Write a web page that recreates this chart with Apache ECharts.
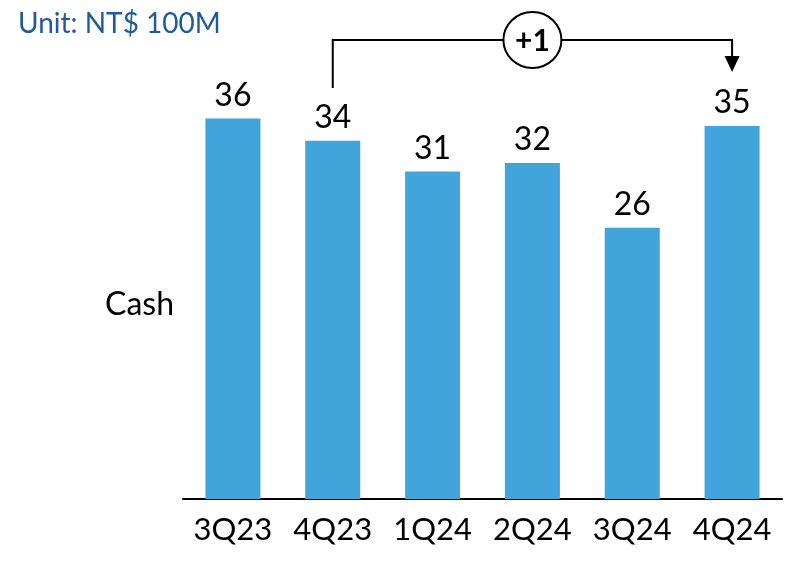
<!DOCTYPE html>
<html>
<head>
<meta charset="utf-8">
<script src="https://cdn.jsdelivr.net/npm/echarts@6/dist/echarts.min.js"></script>
<style>
  html, body { margin: 0; padding: 0; background: #fff; }
  #chart { width: 795px; height: 562px; }
</style>
</head>
<body>
<div id="chart"></div>
<script>
// quarters and cash balance (NT$ 100M)
const quarters = ['3Q23', '4Q23', '1Q24', '2Q24', '3Q24', '4Q24']
const cash = [35.9, 33.8, 30.9, 31.7, 25.6, 35.2]
const shown = [36, 34, 31, 32, 26, 35]
const change = '+1'

const font = 'Lato, "Open Sans", sans-serif'
const chart = echarts.init(document.getElementById('chart'))

chart.setOption({
  animation: false,
  grid: { left: 183, right: 13, top: 22, bottom: 63 },
  xAxis: {
    type: 'category',
    data: quarters,
    axisLine: { lineStyle: { color: '#000', width: 2 } },
    axisTick: { show: false },
    axisLabel: { interval: 0, color: '#000', fontSize: 31, fontFamily: font, margin: 15 }
  },
  yAxis: { type: 'value', min: 0, max: 45, show: false, splitLine: { show: false } },
  series: [{
    type: 'bar',
    data: cash,
    barWidth: 55,
    itemStyle: { color: '#41A5DC' },
    label: {
      show: true,
      position: 'top',
      distance: 7,
      color: '#000',
      fontSize: 32,
      fontFamily: font,
      formatter: p => shown[p.dataIndex]
    }
  }]
})

// bracket arrow from 4Q23 to 4Q24
const x1 = chart.convertToPixel({ xAxisIndex: 0 }, quarters[1])
const x2 = chart.convertToPixel({ xAxisIndex: 0 }, quarters[5])
const lineY = 40
const midX = (x1 + x2) / 2

chart.setOption({
  graphic: [
    {
      type: 'text', left: 18, top: 10,
      style: { text: 'Unit: NT$ 100M', fill: '#1F5A9B', fontSize: 28, fontFamily: font }
    },
    {
      type: 'text', left: 105, top: 289,
      style: { text: 'Cash', fill: '#000', fontSize: 32, fontFamily: font }
    },
    {
      type: 'polyline',
      shape: { points: [[x1, 88], [x1, lineY], [x2, lineY], [x2, 58]] },
      style: { stroke: '#000', lineWidth: 2, fill: null }
    },
    {
      type: 'polygon',
      shape: { points: [[x2 - 7.5, 56], [x2 + 7.5, 56], [x2, 72]] },
      style: { fill: '#000' }
    },
    {
      type: 'ellipse',
      shape: { cx: midX, cy: lineY, rx: 29, ry: 28 },
      style: { fill: '#fff', stroke: '#000', lineWidth: 2 }
    },
    {
      type: 'text', x: midX, y: lineY + 1,
      style: {
        text: change, fill: '#000', fontSize: 30, fontWeight: 'bold', fontFamily: font,
        align: 'center', verticalAlign: 'middle'
      }
    }
  ]
})
</script>
</body>
</html>
